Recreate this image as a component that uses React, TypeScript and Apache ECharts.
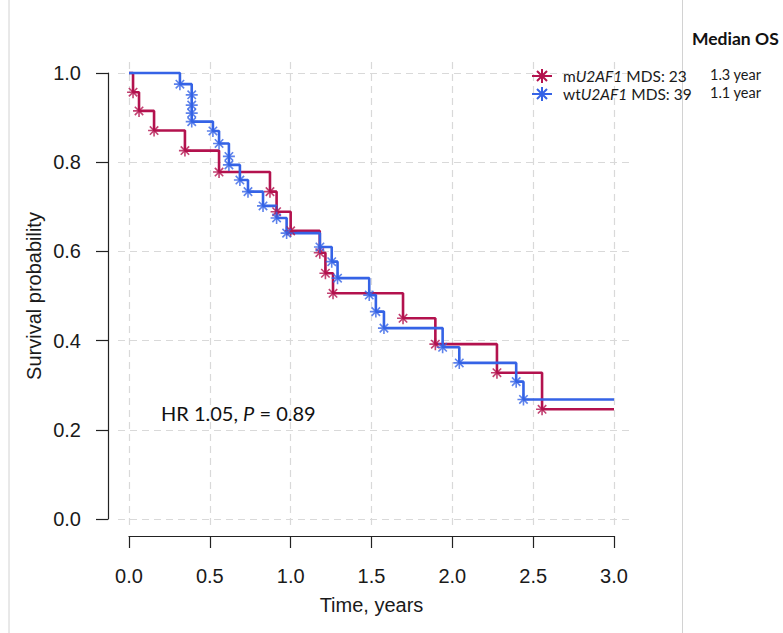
import React, { useEffect, useRef } from "react";
import * as echarts from "echarts";

// ---- data ----
const X_TICKS = [0, 0.5, 1, 1.5, 2, 2.5, 3];
const Y_TICKS = [0, 0.2, 0.4, 0.6, 0.8, 1];

const SERIES_NAMES = ["mU2AF1 MDS: 23", "wtU2AF1 MDS: 39"];
const MEDIAN_OS = ["1.3 year", "1.1 year"];

// mutant U2AF1: step times and survival after each step
const RED_TIMES = [0.025, 0.062, 0.155, 0.346, 0.557, 0.872, 0.913, 1.0, 1.18, 1.215, 1.262, 1.695, 1.895, 2.276, 2.555];
const RED_SURV = [0.957, 0.915, 0.871, 0.826, 0.778, 0.734, 0.689, 0.646, 0.597, 0.551, 0.506, 0.45, 0.392, 0.328, 0.246];

// wild-type U2AF1
const BLUE_TIMES = [0.315, 0.388, 0.519, 0.557, 0.618, 0.686, 0.736, 0.829, 0.913, 0.975, 1.181, 1.254, 1.29, 1.486, 1.527, 1.577, 1.94, 2.043, 2.395, 2.44];
const BLUE_SURV = [0.975, 0.891, 0.87, 0.842, 0.794, 0.76, 0.734, 0.702, 0.675, 0.641, 0.61, 0.577, 0.54, 0.502, 0.465, 0.428, 0.385, 0.35, 0.308, 0.268];

// extra markers lying on vertical drops
const BLUE_EXTRA_TIMES = [0.388, 0.388, 0.388, 0.618];
const BLUE_EXTRA_SURV = [0.951, 0.928, 0.91, 0.813];

const END_TIME = 3;

const RED = "#B3124E";
const BLUE = "#3563E6";

const STAR = "path://M0,-6L0,6M-6,0L6,0M-4.2,-4.2L4.2,4.2M-4.2,4.2L4.2,-4.2";
const LEGEND_ICON = "path://M-10,0L10,0M0,-7L0,7M-7,0L7,0M-5,-5L5,5M-5,5L5,-5";

function stepData(times: number[], surv: number[]) {
  const d: number[][] = [[0, 1]];
  times.forEach((t, i) => d.push([t, surv[i]]));
  d.push([END_TIME, surv[surv.length - 1]]);
  return d;
}
function markData(times: number[], surv: number[]) {
  return times.map((t, i) => [t, surv[i]]);
}

const PX_PER_X = 485 / 3;
const PX_PER_Y = 446;

const AXIS_FONT = "'Liberation Sans', Arial, Helvetica, sans-serif";
const TEXT_FONT = "Lato, 'Open Sans', sans-serif";

function buildOption() {
  const redLine = stepData(RED_TIMES, RED_SURV);
  const blueLine = stepData(BLUE_TIMES, BLUE_SURV);
  const redMarks = markData(RED_TIMES, RED_SURV);
  const blueMarks = markData(BLUE_TIMES, BLUE_SURV).concat(markData(BLUE_EXTRA_TIMES, BLUE_EXTRA_SURV));

  return {
    animation: false,
    backgroundColor: "#ffffff",
    grid: [
      { left: 118, top: 60, width: 512, height: 465 },
      { left: 129, top: 526, width: 485, height: 10 },
      { left: 108, top: 73, width: 10, height: 446 },
    ],
    xAxis: [
      { gridIndex: 0, type: "value", min: -11 / PX_PER_X, max: 3 + 16 / PX_PER_X, show: false },
      {
        gridIndex: 1,
        type: "value",
        min: 0,
        max: 3,
        interval: 0.5,
        position: "bottom",
        axisLine: { show: true, lineStyle: { color: "#222", width: 1.2 } },
        axisTick: { show: true, length: 12, inside: false, lineStyle: { color: "#222", width: 1.2 } },
        axisLabel: {
          show: true,
          margin: 30,
          fontSize: 20,
          fontFamily: AXIS_FONT,
          color: "#1a1a1a",
          showMinLabel: true,
          showMaxLabel: true,
          formatter: (v: number) => v.toFixed(1),
        },
        splitLine: { show: false },
        name: "Time, years",
        nameLocation: "middle",
        nameGap: 59,
        nameTextStyle: { fontSize: 20, fontFamily: AXIS_FONT, color: "#1a1a1a" },
      },
      { gridIndex: 2, type: "value", min: 0, max: 1, show: false },
    ],
    yAxis: [
      { gridIndex: 0, type: "value", min: -6 / PX_PER_Y, max: 1 + 13 / PX_PER_Y, show: false },
      { gridIndex: 1, type: "value", min: 0, max: 1, show: false },
      {
        gridIndex: 2,
        type: "value",
        min: 0,
        max: 1,
        interval: 0.2,
        position: "left",
        axisLine: { show: true, lineStyle: { color: "#222", width: 1.2 } },
        axisTick: { show: true, length: 12, inside: false, lineStyle: { color: "#222", width: 1.2 } },
        axisLabel: {
          show: true,
          margin: 27,
          fontSize: 20,
          fontFamily: AXIS_FONT,
          color: "#1a1a1a",
          showMinLabel: true,
          showMaxLabel: true,
          formatter: (v: number) => v.toFixed(1),
        },
        splitLine: { show: false },
        name: "Survival probability",
        nameLocation: "middle",
        nameGap: 64,
        nameRotate: 90,
        nameTextStyle: { fontSize: 20, fontFamily: AXIS_FONT, color: "#1a1a1a" },
      },
    ],
    legend: {
      orient: "vertical",
      left: 531,
      top: 68,
      padding: 0,
      itemWidth: 20,
      itemHeight: 14,
      itemGap: 2,
      selectedMode: false,
      data: [
        { name: SERIES_NAMES[0], icon: LEGEND_ICON, itemStyle: { color: RED, borderColor: RED, borderWidth: 2 } },
        { name: SERIES_NAMES[1], icon: LEGEND_ICON, itemStyle: { color: BLUE, borderColor: BLUE, borderWidth: 2 } },
      ],
      textStyle: {
        padding: [0, 0, 0, 6],
        lineHeight: 14,
        rich: {
          a: { fontFamily: TEXT_FONT, fontSize: 15.5, color: "#1a1a1a", lineHeight: 14, height: 14 },
          b: { fontFamily: TEXT_FONT, fontSize: 15.5, fontStyle: "italic", color: "#1a1a1a", lineHeight: 14, height: 14 },
        },
      },
      formatter: (name: string) => {
        const m = name.match(/^(\w*?)(U2AF1)(.*)$/);
        if (!m) return name;
        return `{a|${m[1]}}{b|${m[2]}}{a|${m[3]}}`;
      },
    },
    graphic: [
      { type: "line", shape: { x1: 9, y1: 0, x2: 9, y2: 633 }, style: { stroke: "#d2d2d2", lineWidth: 1 }, silent: true },
      { type: "line", shape: { x1: 682.5, y1: 0, x2: 682.5, y2: 633 }, style: { stroke: "#d2d2d2", lineWidth: 1 }, silent: true },
      {
        type: "text",
        x: 692,
        y: 38,
        style: { text: "Median OS", fontFamily: TEXT_FONT, fontWeight: "bold", fontSize: 17.5, fill: "#111", verticalAlign: "middle" },
      },
      {
        type: "text",
        x: 710,
        y: 74,
        style: { text: MEDIAN_OS[0], fontFamily: TEXT_FONT, fontSize: 14.5, fill: "#1a1a1a", verticalAlign: "middle" },
      },
      {
        type: "text",
        x: 710,
        y: 92,
        style: { text: MEDIAN_OS[1], fontFamily: TEXT_FONT, fontSize: 14.5, fill: "#1a1a1a", verticalAlign: "middle" },
      },
      {
        type: "text",
        x: 161,
        y: 413,
        style: {
          text: "{n|HR 1.05, }{i|P}{n| = 0.89}",
          verticalAlign: "middle",
          rich: {
            n: { fontFamily: TEXT_FONT, fontSize: 20, fill: "#111" },
            i: { fontFamily: TEXT_FONT, fontSize: 20, fontStyle: "italic", fill: "#111" },
          },
        },
      },
    ],
    series: [
      {
        name: SERIES_NAMES[0],
        type: "line",
        xAxisIndex: 0,
        yAxisIndex: 0,
        data: redLine,
        step: "end",
        showSymbol: false,
        clip: false,
        z: 2,
        lineStyle: { color: RED, width: 2.6 },
        itemStyle: { color: RED },
        markLine: {
          silent: true,
          z: 1,
          symbol: ["none", "none"],
          label: { show: false },
          lineStyle: { color: "#d9d9d9", type: [7, 5], width: 1.2 },
          data: [
            ...X_TICKS.map((v) => ({ xAxis: v })),
            ...Y_TICKS.map((v) => ({ yAxis: v })),
          ],
        },
      },
      {
        name: SERIES_NAMES[1],
        type: "line",
        xAxisIndex: 0,
        yAxisIndex: 0,
        data: blueLine,
        step: "end",
        showSymbol: false,
        clip: false,
        z: 2,
        lineStyle: { color: BLUE, width: 2.6 },
        itemStyle: { color: BLUE },
      },
      {
        name: SERIES_NAMES[0],
        type: "scatter",
        xAxisIndex: 0,
        yAxisIndex: 0,
        data: redMarks,
        symbol: STAR,
        symbolSize: 12,
        clip: false,
        z: 3,
        itemStyle: { color: RED, borderColor: RED, borderWidth: 1.6 },
      },
      {
        name: SERIES_NAMES[1],
        type: "scatter",
        xAxisIndex: 0,
        yAxisIndex: 0,
        data: blueMarks,
        symbol: STAR,
        symbolSize: 12,
        clip: false,
        z: 3,
        itemStyle: { color: BLUE, borderColor: BLUE, borderWidth: 1.6 },
      },
    ],
  };
}

export default function App() {
  const ref = useRef<HTMLDivElement>(null);
  useEffect(() => {
    if (!ref.current) return;
    const chart = echarts.init(ref.current, null, { renderer: "svg" });
    chart.setOption(buildOption() as any);
    return () => chart.dispose();
  }, []);
  return (
    <div
      ref={ref}
      style={{ position: "absolute", left: 0, top: 0, width: 783, height: 633, background: "#fff" }}
    />
  );
}
